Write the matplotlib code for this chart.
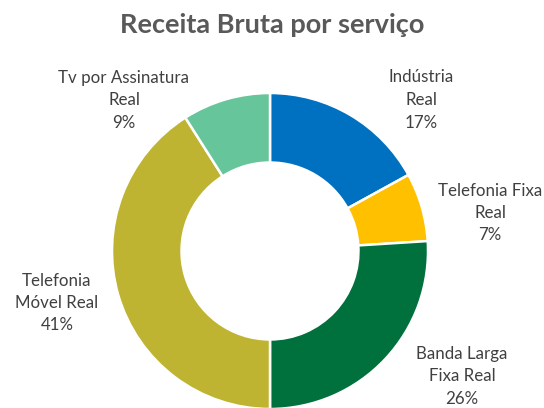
import matplotlib
matplotlib.use("Agg")
import matplotlib.pyplot as plt

# dados
categorias = ["Indústria\nReal", "Telefonia Fixa\nReal", "Banda Larga\nFixa Real",
              "Telefonia\nMóvel Real", "Tv por Assinatura\nReal"]
valores = [17, 7, 26, 41, 9]
cores = ["#0070C0", "#FFC000", "#00703C", "#BFB431", "#66C59B"]

W, H = 544, 408
fig = plt.figure(figsize=(W / 100, H / 100), dpi=100)

# centro (270, 251) px, raio 158 px
cx, cy, r = 270, 251, 158
ax = fig.add_axes([(cx - r) / W, (H - cy - r) / H, 2 * r / W, 2 * r / H])
wedges, _ = ax.pie(valores, colors=cores, startangle=90, counterclock=False,
                   radius=1, wedgeprops=dict(width=0.44, edgecolor="white", linewidth=1.8))
for w in wedges:
    w.set_clip_on(False)
ax.set_xlim(-1, 1)
ax.set_ylim(-1, 1)
ax.axis("off")

# posições dos rótulos (px)
pos_rotulos = [(421, 100), (490, 213), (462, 376), (57, 303), (124, 100)]
for nome, v, (x, y) in zip(categorias, valores, pos_rotulos):
    fig.text(x / W, 1 - y / H, f"{nome}\n{v}%", ha="center", va="center",
             fontsize=12.2, color="#404040", family="Lato", linespacing=1.5)

fig.text(0.5, 1 - 25 / H, "Receita Bruta por serviço", ha="center", va="center",
         fontsize=19.5, fontweight="bold", color="#595959", family="Lato")

fig.savefig("out.png", dpi=100)
